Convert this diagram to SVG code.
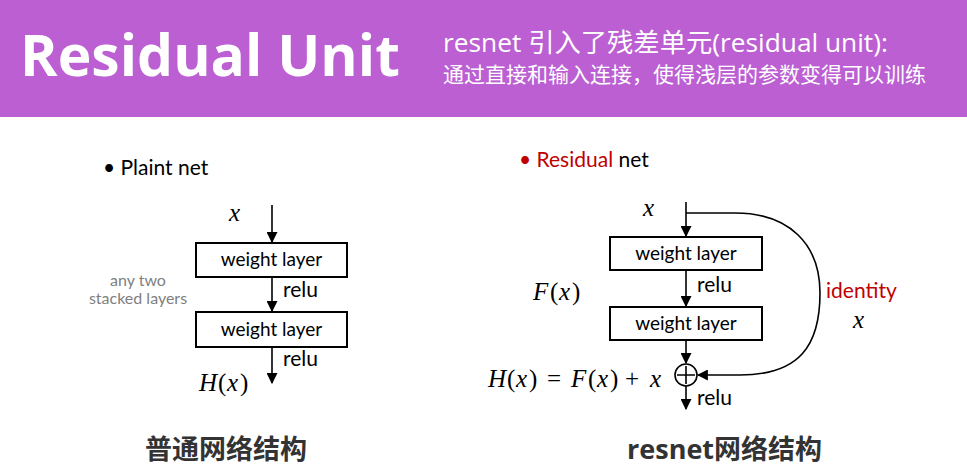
<svg xmlns="http://www.w3.org/2000/svg" width="967" height="470" viewBox="0 0 967 470">
<defs>
<marker id="ah" viewBox="0 0 10 10" refX="9" refY="5" markerWidth="11" markerHeight="11" markerUnits="userSpaceOnUse" orient="auto"><path d="M0,0 L10,5 L0,10 z" fill="#000"/></marker>
<style>
.box{fill:#fff;stroke:#000;stroke-width:2}
.edge{stroke:#000;stroke-width:1.6;fill:none}
.lbl{font-family:Lato,"Open Sans","Noto Sans",sans-serif;font-size:19px;fill:#000}
.rl{font-family:Lato,"Open Sans","Noto Sans",sans-serif;font-size:21px;fill:#000}
.m{font-family:"Liberation Serif","DejaVu Serif",serif;font-size:25px;fill:#000}
.i{font-style:italic}
.gray{font-family:Lato,"Open Sans",sans-serif;font-size:16px;fill:#808080}
.bul{font-family:Lato,"Open Sans",sans-serif;font-size:21px;fill:#000}
.cap{font-family:"Open Sans","Noto Sans CJK SC",sans-serif;font-weight:bold;font-size:27px;fill:#333}
.hdr{font-family:"Open Sans","Noto Sans CJK SC",sans-serif;fill:#fff}
</style>
</defs>
<rect x="0" y="0" width="967" height="470" fill="#fff"/>
<rect x="0" y="0" width="967" height="117" fill="#bb5fd3"/>
<text class="hdr" x="20" y="76" font-size="57" font-weight="bold" textLength="380" lengthAdjust="spacingAndGlyphs">Residual Unit</text>
<text class="hdr" x="443" y="52" font-size="26.3">resnet 引入了残差单元(residual unit):</text>
<text class="hdr" x="443" y="82" font-size="21">通过直接和输入连接，使得浅层的参数变得可以训练</text>

<g id="plain-title"><text class="bul" x="103" y="175">• Plaint net</text></g>
<g id="plain-note"><text class="gray" x="138" y="286" text-anchor="middle">any two</text><text class="gray" x="138" y="304" text-anchor="middle">stacked layers</text></g>
<g id="plain-x"><text class="m i" x="229" y="221">x</text></g>
<g id="plain-w1"><rect class="box" x="196" y="243" width="151" height="34"/><text class="lbl" x="271.5" y="266" text-anchor="middle">weight layer</text></g>
<g id="plain-w2"><rect class="box" x="196" y="312" width="151" height="35"/><text class="lbl" x="271.5" y="336" text-anchor="middle">weight layer</text></g>
<g id="plain-out"><text class="m" y="391"><tspan class="i" x="199">H</tspan><tspan x="218">(</tspan><tspan class="i" x="227">x</tspan><tspan x="240">)</tspan></text></g>

<g id="res-title"><text class="bul" x="519" y="167"><tspan fill="#c00000">• Residual</tspan> net</text></g>
<g id="res-x"><text class="m i" x="643" y="216">x</text></g>
<g id="res-w1"><rect class="box" x="610" y="237" width="152" height="33"/><text class="lbl" x="686" y="260" text-anchor="middle">weight layer</text></g>
<g id="res-w2"><rect class="box" x="610" y="307" width="152" height="33"/><text class="lbl" x="686" y="330" text-anchor="middle">weight layer</text></g>
<g id="res-fx"><text class="m" y="300"><tspan class="i" x="533">F</tspan><tspan x="550">(</tspan><tspan class="i" x="559">x</tspan><tspan x="572">)</tspan></text></g>
<g id="res-add"><circle cx="686" cy="375" r="11" fill="#fff" stroke="#000" stroke-width="1.6"/><path d="M686,366 V384 M677,375 H695" stroke="#000" stroke-width="1.6"/></g>
<g id="res-hx"><text class="m" y="387"><tspan class="i" x="488">H</tspan><tspan x="507">(</tspan><tspan class="i" x="516">x</tspan><tspan x="529">)</tspan><tspan x="547">=</tspan><tspan class="i" x="571">F</tspan><tspan x="588">(</tspan><tspan class="i" x="597">x</tspan><tspan x="610">)</tspan><tspan x="625">+</tspan><tspan class="i" x="650">x</tspan></text></g>
<g id="res-identity"><text class="bul" x="826" y="298" style="fill:#c00000">identity</text><text class="m i" x="853" y="328">x</text></g>

<g id="connectors">
<line class="edge" x1="272" y1="205" x2="272" y2="242" marker-end="url(#ah)"/>
<line class="edge" x1="272" y1="277" x2="272" y2="311" marker-end="url(#ah)"/>
<line class="edge" x1="272" y1="347" x2="272" y2="383" marker-end="url(#ah)"/>
<text class="rl" x="283" y="297">relu</text>
<text class="rl" x="283" y="366">relu</text>
<line class="edge" x1="686" y1="202" x2="686" y2="236" marker-end="url(#ah)"/>
<line class="edge" x1="686" y1="270" x2="686" y2="306" marker-end="url(#ah)"/>
<line class="edge" x1="686" y1="340" x2="686" y2="363" marker-end="url(#ah)"/>
<line class="edge" x1="686" y1="386" x2="686" y2="409" marker-end="url(#ah)"/>
<path class="edge" d="M686,213 H735 C790,213 820,245 820,293 C820,345 800,375 740,375 H698" marker-end="url(#ah)"/>
<text class="rl" x="697" y="292">relu</text>
<text class="rl" x="697" y="405">relu</text>
</g>

<g id="captions">
<text class="cap" x="145" y="459">普通网络结构</text>
<text class="cap" x="627" y="459">resnet网络结构</text>
</g>
</svg>
